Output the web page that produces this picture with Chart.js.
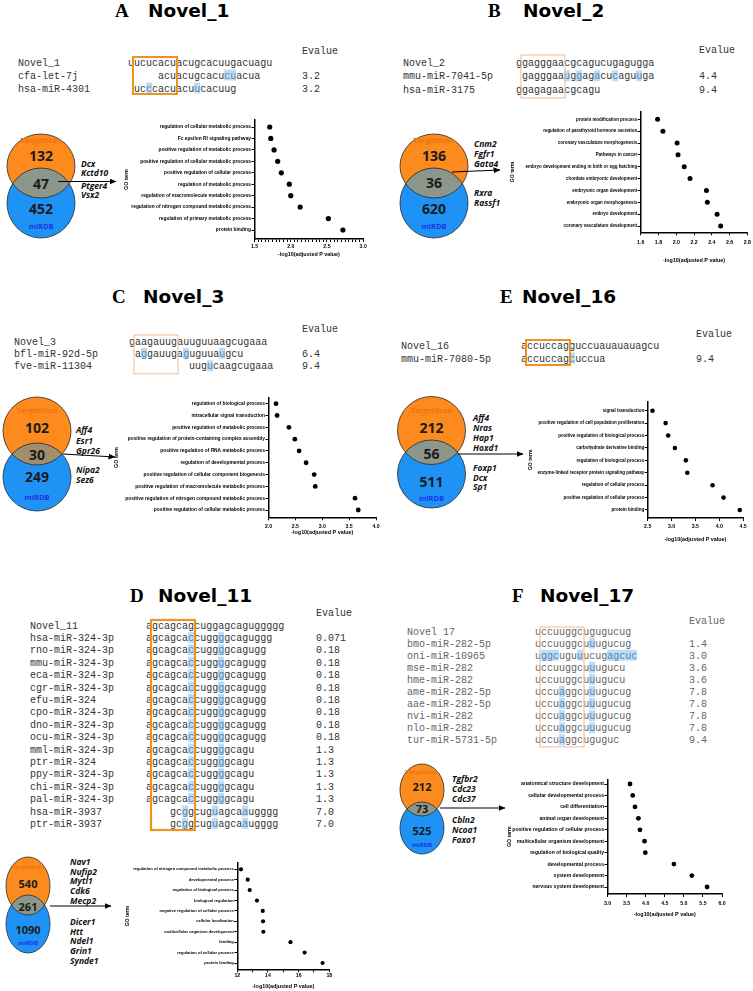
<!DOCTYPE html>
<html><head><meta charset="utf-8">
<script src="https://cdn.jsdelivr.net/npm/chart.js@4.4.1/dist/chart.umd.min.js"></script>
<style>
html,body{margin:0;padding:0;background:#fff}
#page{position:relative;width:753px;height:991px;overflow:hidden;background:#fff}
#ov{position:absolute;left:0;top:0}
canvas{position:absolute}
</style></head>
<body><div id="page"><svg id="ov" width="753" height="991" xmlns="http://www.w3.org/2000/svg"></svg></div>
<script>
// ================= DATA =================
const panelLetters = ['A','B','C','E','D','F'];
const panelNames = ['Novel_1','Novel_2','Novel_3','Novel_16','Novel_11','Novel_17'];

const alnA_names = ['Novel_1','cfa-let-7j','hsa-miR-4301'];
const alnA_seqs = ['uucucacuacugcacuugacuagu','acuacugcacucuacua','ucccacuacuucacuug'];
const alnA_offsets = [0,5,1];
const alnA_evalues = ['','3.2','3.2'];
const alnA_mismatch = [[],[11,12],[2,10]];

const alnB_names = ['Novel_2','mmu-miR-7041-5p','hsa-miR-3175'];
const alnB_seqs = ['ggagggaacgcagucugagugga','gagggaauggagacucaguuga','ggagagaacgcagu'];
const alnB_offsets = [0,1,0];
const alnB_evalues = ['','4.4','9.4'];
const alnB_mismatch = [[],[7,9,12,15,19],[]];

const alnC_names = ['Novel_3','bfl-miR-92d-5p','fve-miR-11304'];
const alnC_seqs = ['gaagauugauuguuaagcugaaa','aggauugaguguuaugcu','uugucaagcugaaa'];
const alnC_offsets = [0,1,10];
const alnC_evalues = ['','6.4','9.4'];
const alnC_mismatch = [[],[1,8,14],[3]];

const alnE_names = ['Novel_16','mmu-miR-7080-5p'];
const alnE_seqs = ['accuccagguccuauauauagcu','accuccagcuccua'];
const alnE_offsets = [0,0];
const alnE_evalues = ['','9.4'];
const alnE_mismatch = [[],[8]];

const alnD_names = ['Novel_11','hsa-miR-324-3p','rno-miR-324-3p','mmu-miR-324-3p','eca-miR-324-3p','cgr-miR-324-3p','efu-miR-324','cpo-miR-324-3p','dno-miR-324-3p','ocu-miR-324-3p','mml-miR-324-3p','ptr-miR-324','ppy-miR-324-3p','chi-miR-324-3p','pal-miR-324-3p','hsa-miR-3937','ptr-miR-3937'];
const alnD_seqs = ['agcagcagcuggagcaguggggg','agcagcaccuggggcaguggg','agcagcaccuggggcagugg','agcagcaccuggggcagugg','agcagcaccuggggcagugg','agcagcaccuggggcagugg','agcagcaccuggggcagugg','agcagcaccuggggcagugg','agcagcaccuggggcagugg','agcagcaccuggggcagugg','agcagcaccuggggcagu','agcagcaccuggggcagu','agcagcaccuggggcagu','agcagcaccuggggcagu','agcagcaccuggggcagu','gcggcuguagcaaugggg','gcggcuguagcaaugggg'];
const alnD_offsets = [0,0,0,0,0,0,0,0,0,0,0,0,0,0,0,4,4];
const alnD_evalues = ['','0.071','0.18','0.18','0.18','0.18','0.18','0.18','0.18','0.18','1.3','1.3','1.3','1.3','1.3','7.0','7.0'];
const alnD_mismatch = [[],[7,12],[7,12],[7,12],[7,12],[7,12],[7,12],[7,12],[7,12],[7,12],[7,12],[7,12],[7,12],[7,12],[7,12],[2,7,12],[2,7,12]];

const alnF_names = ['Novel 17','bmo-miR-282-5p','oni-miR-10965','mse-miR-282','hme-miR-282','ame-miR-282-5p','aae-miR-282-5p','nvi-miR-282','nlo-miR-282','tur-miR-5731-5p'];
const alnF_seqs = ['uccuuggcugugucug','uccuuggcuuugucug','uggcuguuucugagcuc','uccuuggcuuugucu','uccuuggcuuugucu','uccuaggcuuugucug','uccuaggcuuugucug','uccuaggcuuugucug','uccuaggcuuugucug','uccuaggcuguguc'];
const alnF_offsets = [0,0,0,0,0,0,0,0,0,0];
const alnF_evalues = ['','1.4','3.0','3.6','3.6','7.8','7.8','7.8','7.8','9.4'];
const alnF_mismatch = [[],[9],[1,2,3,7,12,13,14,15,16],[9],[9],[4,9],[4,9],[4,9],[4,9],[4]];

const vennA_counts = [132,47,452];
const vennB_counts = [136,36,620];
const vennC_counts = [102,30,249];
const vennE_counts = [212,56,511];
const vennD_counts = [540,261,1090];
const vennF_counts = [212,73,525];
const vennA_genes = ['Dcx','Kctd10','Ptger4','Vsx2'];
const vennB_genes = ['Cnm2','Fgfr1','Gata4','Rxra','Rassf1'];
const vennC_genes = ['Aff4','Esr1','Gpr26','Nipa2','Sez6'];
const vennE_genes = ['Aff4','Nras','Hap1','Hoxd1','Foxp1','Dcx','Sp1'];
const vennD_genes = ['Nav1','Nufip2','Mytl1','Cdk6','Mecp2','Dicer1','Htt','Ndel1','Grin1','Synde1'];
const vennF_genes = ['Tgfbr2','Cdc23','Cdc37','Cbln2','Ncoa1','Foxo1'];

const goA_terms = ['regulation of cellular metabolic process','Fc epsilon RI signaling pathway','positive regulation of metabolic process','positive regulation of cellular metabolic process','positive regulation of cellular process','regulation of metabolic process','regulation of macromolecule metabolic process','regulation of nitrogen compound metabolic process','regulation of primary metabolic process','protein binding'];
const goA_values = [1.71,1.725,1.77,1.82,1.87,1.98,2.0,2.13,2.52,2.72];
const goB_terms = ['protein modification process','regulation of parathyroid hormone secretion','coronary vasculature morphogenesis','Pathways in cancer','embryo development ending in birth or egg hatching','chordate embryonic development','embryonic organ development','embryonic organ morphogenesis','embryo development','coronary vasculature development'];
const goB_values = [1.79,1.85,2.01,2.02,2.09,2.155,2.34,2.35,2.46,2.50];
const goC_terms = ['regulation of biological process','intracellular signal transduction','positive regulation of metabolic process','positive regulation of protein-containing complex assembly','positive regulation of RNA metabolic process','regulation of developmental process','positive regulation of cellular component biogenesis','positive regulation of macromolecule metabolic process','positive regulation of nitrogen compound metabolic process','positive regulation of cellular metabolic process'];
const goC_values = [2.14,2.16,2.38,2.49,2.57,2.70,2.85,2.87,3.61,3.67];
const goE_terms = ['signal transduction','positive regulation of cell population proliferation','positive regulation of biological process','carbohydrate derivative binding','regulation of biological process','enzyme-linked receptor protein signaling pathway','regulation of cellular process','positive regulation of cellular process','protein binding'];
const goE_values = [2.60,2.875,2.93,3.07,3.30,3.33,3.86,4.09,4.43];
const goD_terms = ['regulation of nitrogen compound metabolic process','developmental process','regulation of biological process','biological regulation','negative regulation of cellular process','cellular localization','multicellular organism development','binding','regulation of cellular process','protein binding'];
const goD_values = [12.24,12.68,12.81,13.28,13.66,13.68,13.70,15.47,16.39,17.56];
const goF_terms = ['anatomical structure development','cellular developmental process','cell differentiation','animal organ development','positive regulation of cellular process','multicellular organism development','regulation of biological quality','developmental process','system development','nervous system development'];
const goF_values = [3.59,3.66,3.72,3.81,3.85,3.97,3.99,4.74,5.21,5.61];

// ================= DRAWING =================
const NS = 'http://www.w3.org/2000/svg';
const svg = document.getElementById('ov');
const page = document.getElementById('page');
const MONO = '"Liberation Mono","DejaVu Sans Mono",monospace';
const CW = 6;

function S(tag, attrs, txt) {
  const e = document.createElementNS(NS, tag);
  for (const k in attrs) e.setAttribute(k, attrs[k]);
  if (txt != null) e.textContent = txt;
  svg.appendChild(e);
  return e;
}
const defs = S('defs', {});
const mk = document.createElementNS(NS, 'marker');
[['id','ah'],['markerWidth','7'],['markerHeight','6'],['refX','6.5'],['refY','3'],['orient','auto'],['markerUnits','userSpaceOnUse']].forEach(a=>mk.setAttribute(a[0],a[1]));
const mp = document.createElementNS(NS,'path'); mp.setAttribute('d','M0,0 L7,3 L0,6 z'); mp.setAttribute('fill','#000');
mk.appendChild(mp); defs.appendChild(mk);

const titleLayout = [
  {lx:115, nx:148, y:17.3},
  {lx:488, nx:523, y:17.3},
  {lx:112, nx:143, y:303},
  {lx:500, nx:522, y:303},
  {lx:130, nx:158, y:602},
  {lx:512, nx:540, y:602}
];
panelLetters.forEach((L,i)=>{
  const t = titleLayout[i];
  S('text',{x:t.lx,y:t.y,'font-family':'"Liberation Serif","DejaVu Serif",serif','font-weight':'bold','font-size':19,fill:'#000'},L);
  S('text',{x:t.nx,y:t.y,'font-family':'"DejaVu Sans",sans-serif','font-weight':'bold','font-size':18.5,fill:'#000'},panelNames[i]);
});

function drawAlign(names, seqs, offs, evs, mm, L) {
  const fill = L.fill || '#333';
  S('text',{x:L.evX,y:L.headY+3.5,'font-family':MONO,'font-size':10,fill:fill},'Evalue');
  names.forEach((n,i)=>{
    const cy = L.y0 + i*L.dy;
    mm[i].forEach(k=>S('rect',{x:L.seqX+(offs[i]+k)*CW,y:cy-5.5,width:CW,height:11,fill:'#bfdcf2'}));
    S('text',{x:L.nameX,y:cy+3.5,'font-family':MONO,'font-size':10,fill:fill},n);
    const t = S('text',{x:L.seqX+offs[i]*CW,y:cy+3.5,'font-family':MONO,'font-size':10,fill:fill});
    seqs[i].split('').forEach((c,k)=>{
      const sp = document.createElementNS(NS,'tspan');
      if (mm[i].includes(k)) sp.setAttribute('fill','#4f86bd');
      sp.textContent = c; t.appendChild(sp);
    });
    if (evs[i]) S('text',{x:L.evX,y:cy+3.5,'font-family':MONO,'font-size':10,fill:fill},evs[i]);
  });
  const last = L.y0 + (names.length-1)*L.dy;
  const top = L.y0 - L.bt, bot = last + L.bb;
  S('rect',{x:L.seqX+CW-1,y:top,width:7*CW+2,height:bot-top,fill:'none',stroke:L.bc,'stroke-width':L.bw});
}

const THICK = '#f0921f', THIN = '#f3b98f';
drawAlign(alnA_names,alnA_seqs,alnA_offsets,alnA_evalues,alnA_mismatch,{nameX:18,seqX:128,evX:302,headY:50,y0:62,dy:13,bt:5,bb:6,bc:THICK,bw:2});
drawAlign(alnB_names,alnB_seqs,alnB_offsets,alnB_evalues,alnB_mismatch,{nameX:403,seqX:516,evX:699,headY:49,y0:62.3,dy:13.5,bt:7.3,bb:8.7,bc:THIN,bw:1});
drawAlign(alnC_names,alnC_seqs,alnC_offsets,alnC_evalues,alnC_mismatch,{nameX:14,seqX:129,evX:302,headY:328,y0:341,dy:12.4,bt:6,bb:8,bc:THIN,bw:1});
drawAlign(alnE_names,alnE_seqs,alnE_offsets,alnE_evalues,alnE_mismatch,{nameX:401,seqX:521,evX:696,headY:333,y0:345,dy:13,bt:5,bb:7,bc:THICK,bw:2});
drawAlign(alnD_names,alnD_seqs,alnD_offsets,alnD_evalues,alnD_mismatch,{nameX:30,seqX:146,evX:316,headY:612,y0:625,dy:12.4,bt:5,bb:6.6,bc:THICK,bw:2.2});
drawAlign(alnF_names,alnF_seqs,alnF_offsets,alnF_evalues,alnF_mismatch,{nameX:407,seqX:535,evX:689,headY:620,y0:631,dy:12.1,bt:4,bb:7,bc:THIN,bw:1,fill:'#666'});

let vid = 0;
function drawVenn(counts, genes, V) {
  const id = 'vc'+(vid++);
  const cp = document.createElementNS(NS,'clipPath'); cp.setAttribute('id',id);
  const ce = document.createElementNS(NS,'ellipse');
  ce.setAttribute('cx',V.cx); ce.setAttribute('cy',V.oy); ce.setAttribute('rx',V.rx); ce.setAttribute('ry',V.ory);
  cp.appendChild(ce); defs.appendChild(cp);
  S('ellipse',{cx:V.cx,cy:V.oy,rx:V.rx,ry:V.ory,fill:'#fd8a1c'});
  S('ellipse',{cx:V.cx,cy:V.by,rx:V.rx,ry:V.bry,fill:'#1e93f5'});
  S('ellipse',{cx:V.cx,cy:V.by,rx:V.rx,ry:V.bry,fill:V.lens||'#8c968a','clip-path':'url(#'+id+')'});
  S('ellipse',{cx:V.cx,cy:V.oy,rx:V.rx,ry:V.ory,fill:'none',stroke:'#2a2a2a','stroke-width':0.8});
  S('ellipse',{cx:V.cx,cy:V.by,rx:V.rx,ry:V.bry,fill:'none',stroke:'#2a2a2a','stroke-width':0.8});
  S('text',{x:V.cx,y:V.tsY,'text-anchor':'middle','dominant-baseline':'central','font-family':'"Open Sans",sans-serif','font-weight':'bold','font-size':V.ls,fill:'#ea7512'},'TargetScan');
  counts.forEach((c,i)=>S('text',{x:V.cx,y:V.ny[i],'text-anchor':'middle','dominant-baseline':'central','font-family':'"Open Sans",sans-serif','font-weight':'bold','font-size':V.ns,fill:'#1b1b1b'},String(c)));
  S('text',{x:V.cx,y:V.mY,'text-anchor':'middle','dominant-baseline':'central','font-family':'"Open Sans",sans-serif','font-weight':'bold','font-size':V.ls,fill:'#1b35e6'},'miRDB');
  genes.forEach((g,i)=>S('text',{x:V.gx,y:V.gy[i],'dominant-baseline':'central','font-family':'"Open Sans",sans-serif','font-weight':'bold','font-style':'italic','font-size':V.gs,fill:'#111'},g));
  S('line',{x1:V.ax1,y1:V.ay1,x2:V.ax2,y2:V.ay2,stroke:'#000','stroke-width':1.2,'marker-end':'url(#ah)'});
}
drawVenn(vennA_counts,vennA_genes,{cx:41,oy:166,ory:32,by:203,bry:35,rx:34,tsY:140,ny:[155,183,208],mY:226,ls:7.5,ns:14,gs:8.5,gx:81,gy:[163,172.5,185,194.5],ax1:58,ay1:181.5,ax2:116,ay2:181.5});
drawVenn(vennB_counts,vennB_genes,{cx:434,oy:166,ory:32,by:203,bry:35,rx:34,tsY:140,ny:[155,182,208],mY:226,ls:7.5,ns:14,gs:8.5,gx:474,gy:[143,153,163,192,202],ax1:452,ay1:172,ax2:500,ay2:170});
drawVenn(vennC_counts,vennC_genes,{cx:37,oy:431,ory:34,by:477,bry:34,rx:34,lens:'#a28d6c',tsY:410,ny:[427,454,476],mY:497,ls:7.5,ns:14,gs:8.5,gx:76,gy:[429.7,440,450,469.3,479],ax1:63,ay1:454,ax2:115,ay2:457});
drawVenn(vennE_counts,vennE_genes,{cx:431.5,oy:430.5,ory:34,by:474,bry:34,rx:34,tsY:410,ny:[427,453.5,481],mY:498,ls:7.5,ns:14,gs:8.5,gx:473,gy:[417,427,437,447,467,477,486],ax1:458,ay1:454,ax2:523,ay2:454});
drawVenn(vennD_counts,vennD_genes,{cx:28,oy:886,ory:29,by:924,bry:29,rx:22,tsY:867,ny:[883,906,929],mY:943,ls:6,ns:11,gs:8.5,gx:70,gy:[861,871,880.5,890,900,921,931,940,950,960],ax1:50,ay1:906,ax2:111,ay2:906});
drawVenn(vennF_counts,vennF_genes,{cx:422,oy:790,ory:26,by:828,bry:26,rx:22,tsY:772,ny:[786,808,830],mY:845,ls:6,ns:11,gs:8.5,gx:452,gy:[778,788,798,819,829,839],ax1:440,ay1:808,ax2:505,ay2:808});

// ---------- GO dot plots with Chart.js ----------
Chart.defaults.font.family = '"Liberation Sans", Arial, sans-serif';
Chart.defaults.animation = false;

function goChart(terms, values, L) {
  const n = terms.length;
  const sp = (L.yLast - L.yFirst)/(n-1);
  const ymin = -(L.yFirst - L.y0)/sp, ymax = (n-1) + (L.yAxis - L.yLast)/sp;
  const left = Math.floor(Math.min(L.yTitleX - 5, L.x0 - L.labelW - 8));
  const top = Math.floor(L.y0 - 6);
  const right = Math.ceil(L.x1 + 10);
  const bottom = Math.ceil(L.xTitleY + 6);
  const cv = document.createElement('canvas');
  cv.width = right-left; cv.height = bottom-top;
  cv.style.left = left+'px'; cv.style.top = top+'px';
  page.appendChild(cv);
  const mctx = document.createElement('canvas').getContext('2d');
  mctx.font = 'bold 10px "Liberation Sans", Arial, sans-serif';
  const longest = Math.max(...terms.map(t=>mctx.measureText(t).width));
  const fs = 10*L.labelW/longest;
  const nT = Math.round((L.xmax-L.xmin)/L.minor);
  const xt = []; for (let k=0;k<=nT;k++) xt.push(Math.round((L.xmin+k*L.minor)*1e6)/1e6);
  const isMajor = v => Math.abs(v/L.major - Math.round(v/L.major)) < 1e-6;
  const tl = 3;
  const xPad = Math.max(0, L.xTickY - L.yAxis - tl - 3);
  const common = {drawOnChartArea:false, drawTicks:true, tickLength:tl, tickColor:'#000', tickWidth:1};
  new Chart(cv, {
    type:'scatter',
    data:{datasets:[{data:values.map((v,i)=>({x:v,y:i})), pointRadius:L.r, pointHoverRadius:L.r, pointBackgroundColor:'#000', pointBorderWidth:0, showLine:false}]},
    options:{
      responsive:false, maintainAspectRatio:false, animation:false,
      layout:{padding:{left:0, top:L.y0-top, right:right-L.x1, bottom:0}},
      plugins:{legend:{display:false}, tooltip:{enabled:false}},
      scales:{
        x:{type:'linear', position:'bottom', min:L.xmin, max:L.xmax,
          afterBuildTicks:s=>{s.ticks = xt.map(v=>({value:v}));},
          afterFit:s=>{s.height = bottom - L.yAxis;},
          grid:common, border:{display:true,color:'#000',width:1.5},
          ticks:{autoSkip:false, maxRotation:0, minRotation:0, padding:xPad, color:'#000', font:{size:5.2, weight:'bold'},
            callback:v=> isMajor(v) ? Number(v).toFixed(L.dec) : ''},
          title:{display:true, text:'-log10(adjusted P value)', color:'#000', font:{size:5.4, weight:'bold'}, padding:{top:0,bottom:(bottom-L.xTitleY)-3.24}}
        },
        y:{type:'linear', position:'left', reverse:true, min:ymin, max:ymax,
          afterBuildTicks:s=>{s.ticks = terms.map((_,i)=>({value:i}));},
          afterFit:s=>{s.width = L.x0 - left;},
          grid:common, border:{display:true,color:'#000',width:1.5},
          ticks:{autoSkip:false, padding:0.5, color:'#000', font:{size:fs, weight:'bold'}, callback:v=>terms[v]},
          title:{display:true, text:'GO term', color:'#000', font:{size:5.2, weight:'bold'}, padding:{top:L.yTitleX-left-3.1,bottom:0}}
        }
      }
    }
  });
}

goChart(goA_terms, goA_values, {x0:254.5,x1:363.2,xmin:1.5,xmax:3.0,major:0.5,minor:0.05,dec:1,y0:120,yFirst:127,yLast:230,yAxis:239,xTickY:246.7,xTitleY:254.3,yTitleX:127,labelW:120,r:2.6});
goChart(goB_terms, goB_values, {x0:640.7,x1:747.3,xmin:1.6,xmax:2.8,major:0.2,minor:0.2,dec:1,y0:111.7,yFirst:119.3,yLast:226,yAxis:232.3,xTickY:242,xTitleY:260.3,yTitleX:513,labelW:112,r:2.5});
goChart(goC_terms, goC_values, {x0:268.5,x1:376,xmin:2.0,xmax:4.0,major:0.5,minor:0.5,dec:1,y0:397.7,yFirst:403.7,yLast:510,yAxis:517.3,xTickY:526.5,xTitleY:533,yTitleX:117,labelW:140,r:2.4});
goChart(goE_terms, goE_values, {x0:647.7,x1:743.1,xmin:2.5,xmax:4.5,major:0.5,minor:0.5,dec:1,y0:401.7,yFirst:410.7,yLast:510,yAxis:518,xTickY:526,xTitleY:540,yTitleX:531,labelW:107,r:2.3});
goChart(goD_terms, goD_values, {x0:237.3,x1:329.3,xmin:12,xmax:18,major:2,minor:1,dec:0,y0:863,yFirst:869.3,yLast:963,yAxis:969.3,xTickY:975.7,xTitleY:987,yTitleX:128,labelW:101,r:2.1});
goChart(goF_terms, goF_values, {x0:607.5,x1:722,xmin:3.0,xmax:6.0,major:0.5,minor:0.5,dec:1,y0:779.3,yFirst:784,yLast:887,yAxis:894,xTickY:903.3,xTitleY:915,yTitleX:509.3,labelW:92,r:2.4});
</script>
</body></html>
